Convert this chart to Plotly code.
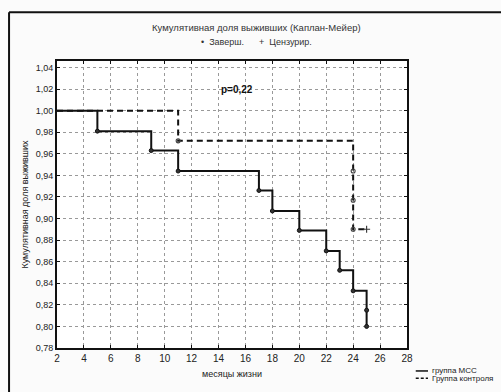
import plotly.graph_objects as go

# ---- data ----
mcc_times = [5, 9, 11, 17, 18, 20, 22, 23, 24, 25, 25]
mcc_surv = [0.981, 0.963, 0.944, 0.926, 0.907, 0.889, 0.870, 0.852, 0.833, 0.815, 0.800]
ctrl_times = [11, 24, 24, 24]
ctrl_surv = [0.972, 0.944, 0.917, 0.890]
ctrl_cens_time = [25]
ctrl_cens_surv = [0.890]
start_time = 2
start_surv = 1.0
x_ticks = list(range(2, 30, 2))
y_ticks = [0.78, 0.80, 0.82, 0.84, 0.86, 0.88, 0.90, 0.92, 0.94, 0.96, 0.98, 1.00, 1.02, 1.04]
y_tick_labels = [f"{v:.2f}".replace(".", ",") for v in y_ticks]

title_text = "Кумулятивная доля выживших (Каплан-Мейер)"
x_title = "месяцы жизни"
y_title = "Кумулятивная доля выживших"
p_text = "p=0,22"
p_pos = (15.4, 1.02)

FONT = "Liberation Sans, Arial, sans-serif"

fig = go.Figure()

# MCC group (solid)
fig.add_trace(go.Scatter(
    x=[start_time] + mcc_times, y=[start_surv] + mcc_surv,
    mode="lines", line=dict(color="#111", width=2, shape="hv"),
    showlegend=False, hoverinfo="skip"))
fig.add_trace(go.Scatter(
    x=mcc_times, y=mcc_surv, mode="markers",
    marker=dict(symbol="circle", size=4, color="#333", line=dict(color="#111", width=1)),
    showlegend=False))

# Control group (dashed)
fig.add_trace(go.Scatter(
    x=[start_time] + ctrl_times + ctrl_cens_time,
    y=[start_surv] + ctrl_surv + ctrl_cens_surv,
    mode="lines", line=dict(color="#111", width=2, shape="hv", dash="6px,4px"),
    showlegend=False, hoverinfo="skip"))
fig.add_trace(go.Scatter(
    x=ctrl_times, y=ctrl_surv, mode="markers",
    marker=dict(symbol="circle-open", size=4, color="#444", line=dict(width=1.1)),
    showlegend=False))
fig.add_trace(go.Scatter(
    x=ctrl_cens_time, y=ctrl_cens_surv, mode="markers",
    marker=dict(symbol="cross-thin-open", size=5, color="#333", line=dict(width=1.1)),
    showlegend=False))

fig.add_annotation(x=p_pos[0], y=p_pos[1], text=f"<b>{p_text}</b>", showarrow=False,
                   font=dict(family=FONT, size=10, color="#111"))

# title + top legend
fig.add_annotation(xref="paper", yref="paper", x=0.57, y=1.117, yanchor="middle",
                   text=title_text, showarrow=False,
                   font=dict(family=FONT, size=9.5, color="#333"))
fig.add_annotation(xref="paper", yref="paper", x=0.57, y=1.067, yanchor="middle",
                   text="\u2022  Заверш.      +  Цензурир.", showarrow=False,
                   font=dict(family=FONT, size=9, color="#333"))

# bottom-right legend
fig.add_shape(type="line", xref="paper", yref="paper", x0=1.025, x1=1.06, y0=-0.080, y1=-0.080,
              line=dict(color="#111", width=1.5))
fig.add_shape(type="line", xref="paper", yref="paper", x0=1.025, x1=1.06, y0=-0.105, y1=-0.105,
              line=dict(color="#111", width=1.5, dash="3px,2px"))
fig.add_annotation(xref="paper", yref="paper", x=1.065, y=-0.080, xanchor="left", yanchor="middle",
                   text="группа МСС", showarrow=False, font=dict(family=FONT, size=8, color="#222"))
fig.add_annotation(xref="paper", yref="paper", x=1.065, y=-0.105, xanchor="left", yanchor="middle",
                   text="Группа контроля", showarrow=False, font=dict(family=FONT, size=8, color="#222"))

# outer frame (top and left edges)
fig.add_shape(type="line", xref="paper", yref="paper", x0=-0.137, x1=1.27, y0=1.17, y1=1.17,
              line=dict(color="#111", width=2))
fig.add_shape(type="line", xref="paper", yref="paper", x0=-0.137, x1=-0.137, y0=1.17, y1=-0.2,
              line=dict(color="#111", width=2))

fig.update_xaxes(range=[2, 28], tickvals=x_ticks, ticks="inside", ticklen=3, tickcolor="#111",
                 showline=True, linecolor="#111", linewidth=2, mirror="ticks",
                 showgrid=True, gridcolor="#999", griddash="dot", gridwidth=1,
                 zeroline=False, tickfont=dict(family=FONT, size=10, color="#222"),
                 title=dict(text=x_title, font=dict(family=FONT, size=9, color="#222"), standoff=8))
fig.update_yaxes(range=[0.78, 1.046], tickvals=y_ticks, ticktext=y_tick_labels,
                 ticks="inside", ticklen=3, tickcolor="#111",
                 showline=True, linecolor="#111", linewidth=2, mirror="ticks",
                 showgrid=True, gridcolor="#999", griddash="dot", gridwidth=1,
                 zeroline=False, tickfont=dict(family=FONT, size=9, color="#222"),
                 title=dict(text=y_title, font=dict(family=FONT, size=9, color="#222"), standoff=6))

fig.update_layout(width=501, height=392,
                  margin=dict(l=57, r=94, t=61, b=44),
                  paper_bgcolor="#fbfbfb", plot_bgcolor="white",
                  showlegend=False)

fig.write_html("out.html")
